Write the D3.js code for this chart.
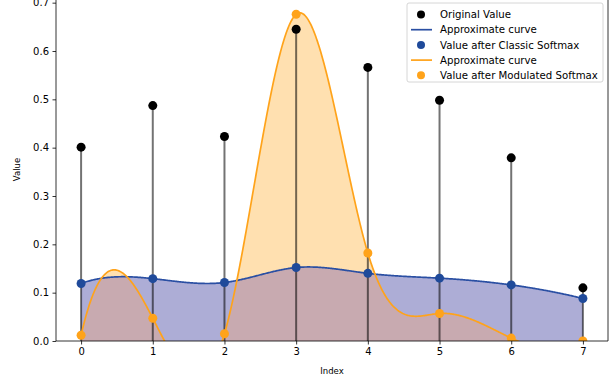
<!DOCTYPE html>
<html>
<head>
<meta charset="utf-8">
<script src="https://cdn.jsdelivr.net/npm/d3@7"></script>
<style>
html,body{margin:0;padding:0;background:#fff;}
svg{display:block;font-family:"DejaVu Sans",sans-serif;}
</style>
</head>
<body>
<svg id="chart" width="616" height="381"></svg>
<script>
const indices = [0, 1, 2, 3, 4, 5, 6, 7];
const originalValues = [0.401, 0.487, 0.423, 0.645, 0.566, 0.498, 0.379, 0.110];
const classicSoftmax = [0.119, 0.129, 0.121, 0.152, 0.140, 0.130, 0.116, 0.088];
const modulatedSoftmax = [0.012, 0.047, 0.015, 0.676, 0.182, 0.057, 0.006, 0.000];
const yTicks = [0.0, 0.1, 0.2, 0.3, 0.4, 0.5, 0.6, 0.7];
const legendLabels = ["Original Value", "Approximate curve", "Value after Classic Softmax", "Approximate curve", "Value after Modulated Softmax"];

const blueLine = "#2a4fa3", blueDot = "#1f4a9a", orangeLine = "#ffa31a", orangeDot = "#ffa31a";
const orangeFill = "#ffe0b0", blueFill = "#adadd6", overlapFill = "#c8aab0";

// not-a-knot cubic spline (like scipy make_interp_spline k=3)
function spline(xs, ys) {
  const n = xs.length;
  const A = Array.from({length: n}, () => new Array(n).fill(0));
  const b = new Array(n).fill(0);
  const h = [];
  for (let i = 0; i < n - 1; i++) h.push(xs[i + 1] - xs[i]);
  A[0][0] = h[1]; A[0][1] = -(h[0] + h[1]); A[0][2] = h[0];
  for (let i = 1; i < n - 1; i++) {
    A[i][i - 1] = h[i - 1];
    A[i][i] = 2 * (h[i - 1] + h[i]);
    A[i][i + 1] = h[i];
    b[i] = 6 * ((ys[i + 1] - ys[i]) / h[i] - (ys[i] - ys[i - 1]) / h[i - 1]);
  }
  A[n - 1][n - 3] = h[n - 2]; A[n - 1][n - 2] = -(h[n - 3] + h[n - 2]); A[n - 1][n - 1] = h[n - 3];
  const M = A.map((r, i) => r.concat([b[i]]));
  for (let c = 0; c < n; c++) {
    let p = c;
    for (let r = c + 1; r < n; r++) if (Math.abs(M[r][c]) > Math.abs(M[p][c])) p = r;
    [M[c], M[p]] = [M[p], M[c]];
    for (let r = 0; r < n; r++) {
      if (r === c) continue;
      const f = M[r][c] / M[c][c];
      for (let k = c; k <= n; k++) M[r][k] -= f * M[c][k];
    }
  }
  const m = M.map((r, i) => r[n] / r[i]);
  return function (x) {
    let i = Math.min(n - 2, Math.max(0, Math.floor(x - xs[0])));
    while (i < n - 2 && x > xs[i + 1]) i++;
    const hi = h[i], a = xs[i + 1] - x, bb = x - xs[i];
    return m[i] * a * a * a / (6 * hi) + m[i + 1] * bb * bb * bb / (6 * hi)
      + (ys[i] / hi - m[i] * hi / 6) * a + (ys[i + 1] / hi - m[i + 1] * hi / 6) * bb;
  };
}

const svg = d3.select("#chart");
const L = 56, R = 608, B = 341;
const x = d3.scaleLinear().domain([-0.35, 7.35]).range([L, R]);
const y = d3.scaleLinear().domain([0, 0.7]).range([B, 2.67]);
const yTop = y(0.7098);

svg.append("defs").append("clipPath").attr("id", "clip")
  .append("rect").attr("x", L).attr("y", yTop).attr("width", R - L).attr("height", B - yTop);

const xsDense = d3.range(600).map(i => 7 * i / 599);
const fB = spline(indices, classicSoftmax);
const fO = spline(indices, modulatedSoftmax);
const curveB = xsDense.map(v => [v, fB(v)]);
const curveO = xsDense.map(v => [v, fO(v)]);
const curveMin = xsDense.map(v => [v, Math.max(0, Math.min(fB(v), fO(v)))]);

const plot = svg.append("g").attr("clip-path", "url(#clip)");
const area = d3.area().x(d => x(d[0])).y0(y(0)).y1(d => y(Math.max(0, d[1])));
const line = d3.line().x(d => x(d[0])).y(d => y(d[1]));

plot.append("path").attr("d", area(curveO)).attr("fill", orangeFill);
plot.append("path").attr("d", area(curveB)).attr("fill", blueFill);
plot.append("path").attr("d", area(curveMin)).attr("fill", overlapFill);

// stems
plot.selectAll(".stem").data(indices).enter().append("line")
  .attr("x1", d => x(d)).attr("x2", d => x(d))
  .attr("y1", y(0)).attr("y2", (d, i) => y(originalValues[i]))
  .attr("stroke", "#000").attr("stroke-opacity", 0.55).attr("stroke-width", 2);

plot.selectAll(".orig").data(indices).enter().append("circle")
  .attr("cx", d => x(d)).attr("cy", (d, i) => y(originalValues[i])).attr("r", 4.5).attr("fill", "#000");

plot.append("path").attr("d", line(curveB)).attr("fill", "none").attr("stroke", blueLine).attr("stroke-width", 1.7);
plot.selectAll(".cb").data(indices).enter().append("circle")
  .attr("cx", d => x(d)).attr("cy", (d, i) => y(classicSoftmax[i])).attr("r", 4.5).attr("fill", blueDot);

plot.append("path").attr("d", line(curveO)).attr("fill", "none").attr("stroke", orangeLine).attr("stroke-width", 1.7);
plot.selectAll(".co").data(indices).enter().append("circle")
  .attr("cx", d => x(d)).attr("cy", (d, i) => y(modulatedSoftmax[i])).attr("r", 4.5).attr("fill", orangeDot);

// axes
const ax = svg.append("g").attr("transform", `translate(0,${B})`)
  .call(d3.axisBottom(x).tickValues(indices).tickFormat(d3.format("d")).tickSize(3.5).tickPadding(3.5));
const ay = svg.append("g").attr("transform", `translate(${L},0)`)
  .call(d3.axisLeft(y).tickValues(yTicks).tickFormat(d3.format(".1f")).tickSize(3.5).tickPadding(3.5));
[ax, ay].forEach(g => {
  g.select(".domain").remove();
  g.selectAll("text").attr("font-size", 10).attr("fill", "#000").attr("font-family", "DejaVu Sans");
  g.selectAll("line").attr("stroke", "#000").attr("stroke-width", 0.8);
});
svg.append("line").attr("x1", L).attr("x2", L).attr("y1", yTop).attr("y2", B).attr("stroke", "#000").attr("stroke-width", 0.8);
svg.append("line").attr("x1", R).attr("x2", R).attr("y1", yTop).attr("y2", B).attr("stroke", "#000").attr("stroke-width", 0.8);
svg.append("line").attr("x1", L).attr("x2", R).attr("y1", B).attr("y2", B).attr("stroke", "#000").attr("stroke-width", 0.8);

svg.append("text").attr("x", (L + R) / 2).attr("y", 374).attr("text-anchor", "middle")
  .attr("font-size", 8.5).text("Index");
svg.append("text").attr("transform", `translate(20,${(B + yTop) / 2}) rotate(-90)`).attr("text-anchor", "middle")
  .attr("font-size", 8.5).text("Value");

// legend
const lg = svg.append("g").attr("transform", "translate(407,3)");
lg.append("rect").attr("x", 0).attr("y", 0).attr("width", 196).attr("height", 79).attr("rx", 2)
  .attr("fill", "#fff").attr("fill-opacity", 0.8).attr("stroke", "#ccc").attr("stroke-width", 0.8);
const kinds = ["dot", "line", "dot", "line", "dot"];
const kcol = ["#000", blueLine, blueDot, orangeLine, orangeDot];
legendLabels.forEach((t, i) => {
  const yy = 11.5 + i * 15.2;
  if (kinds[i] === "dot") lg.append("circle").attr("cx", 14).attr("cy", yy).attr("r", 4).attr("fill", kcol[i]);
  else lg.append("line").attr("x1", 4).attr("x2", 25).attr("y1", yy).attr("y2", yy).attr("stroke", kcol[i]).attr("stroke-width", 1.7);
  lg.append("text").attr("x", 33).attr("y", yy + 3.6).attr("font-size", 10.2).text(t);
});
</script>
</body>
</html>
